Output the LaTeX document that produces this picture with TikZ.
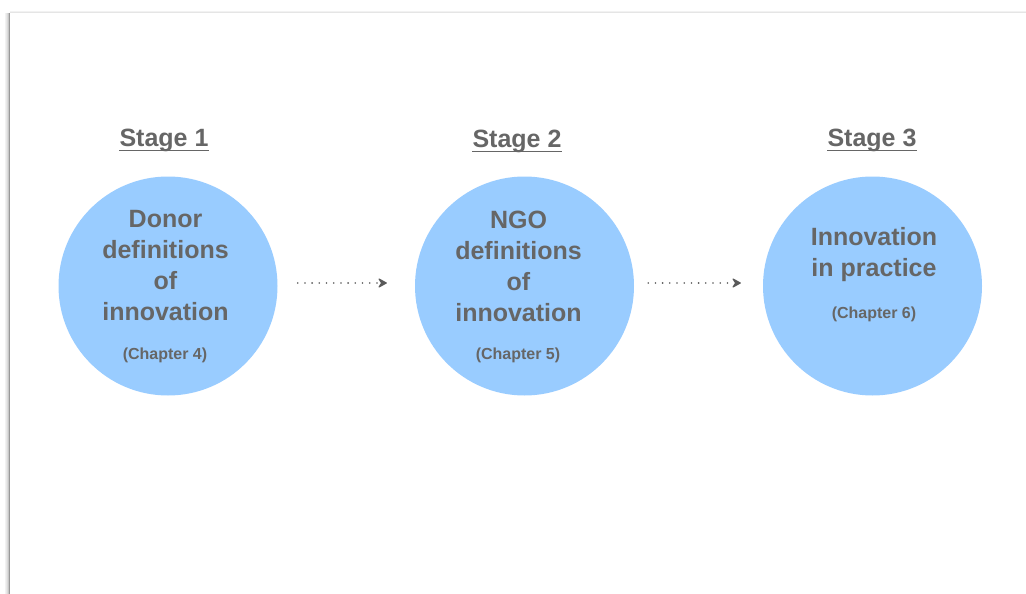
\documentclass[tikz,border=0pt]{standalone}
\usepackage{fontspec}
\setmainfont{Liberation Sans}
\usetikzlibrary{arrows.meta}
\definecolor{bubble}{HTML}{99CCFF}
\definecolor{ink}{HTML}{666666}
\definecolor{arrowink}{HTML}{5A5A5A}
\tikzset{
  stagecircle/.style={circle, fill=bubble, draw=none, minimum size=219pt, inner sep=0pt},
  stagehead/.style={font=\fontsize{25}{30}\selectfont\bfseries, text=ink, inner sep=0pt},
  bigtext/.style={font=\fontsize{25}{31}\selectfont\bfseries, text=ink, align=center, inner sep=0pt},
  chaptext/.style={font=\fontsize{16}{18}\selectfont\bfseries, text=ink, inner sep=0pt},
  headrule/.style={draw=ink, line width=1.7pt},
  dotline/.style={draw=arrowink, line width=1.8pt, line cap=round, dash pattern=on 0pt off 7.2pt},
  arrowhead/.style={draw=arrowink, fill=arrowink, line width=1.2pt,
    -{Stealth[length=10pt,width=11pt,inset=3.5pt,round]}},
}
\begin{document}
\begin{tikzpicture}[x=1pt,y=-1pt]
  \useasboundingbox (0,0) rectangle (1026,594);
  \fill[white] (0,0) rectangle (1026,594);
  % page edge with a soft shadow
  \foreach \d/\o in {4/0.05,3/0.09,2/0.14,1/0.22} {
    \draw[black, opacity=\o, line width=1pt] (9.5-\d,13) -- (9.5-\d,594);
  }
  \draw[gray!80, line width=1.2pt] (9.8,13) -- (9.8,594);
  \draw[black!10, line width=1pt] (9.5,13) -- (1026,13);
  \draw[black!5, line width=1pt] (9.5,12) -- (1026,12);

  % stage circles
  \node[stagecircle] (c1) at (168,286) {};
  \node[stagecircle] (c2) at (524.5,286) {};
  \node[stagecircle] (c3) at (872.5,286) {};

  % stage headings
  \node[stagehead, anchor=base] (s1) at (164,146) {Stage 1};
  \node[stagehead, anchor=base] (s2) at (517,147) {Stage 2};
  \node[stagehead, anchor=base] (s3) at (872,146) {Stage 3};
  \foreach \s in {s1,s2,s3} {
    \draw[headrule] ([yshift=-4.5pt]\s.base west) -- ([yshift=-4.5pt]\s.base east);
  }

  % circle texts
  \node[bigtext] (t1) at (165.5,265.5) {Donor\\definitions\\of\\innovation};
  \node[chaptext] (k1) at (165,355) {(Chapter 4)};
  \node[bigtext] (t2) at (518.5,266) {NGO\\definitions\\of\\innovation};
  \node[chaptext] (k2) at (518,355) {(Chapter 5)};
  \node[bigtext] (t3) at (874,255) {Innovation\\in practice};
  \node[chaptext] (k3) at (874,314.5) {(Chapter 6)};

  % connectors: dotted shaft, then a short solid piece carrying the tip
  \coordinate (a1s) at ([xshift=20pt,yshift=3pt]c1.east);
  \coordinate (a1e) at ([xshift=-28pt,yshift=3pt]c2.west);
  \coordinate (a2s) at ([xshift=14pt,yshift=3pt]c2.east);
  \coordinate (a2e) at ([xshift=-22pt,yshift=3pt]c3.west);
  \draw[dotline] (a1s) -- ([xshift=-7pt]a1e);
  \draw[arrowhead] ([xshift=-5pt]a1e) -- (a1e);
  \draw[dotline] (a2s) -- ([xshift=-7pt]a2e);
  \draw[arrowhead] ([xshift=-5pt]a2e) -- (a2e);
\end{tikzpicture}
\end{document}
